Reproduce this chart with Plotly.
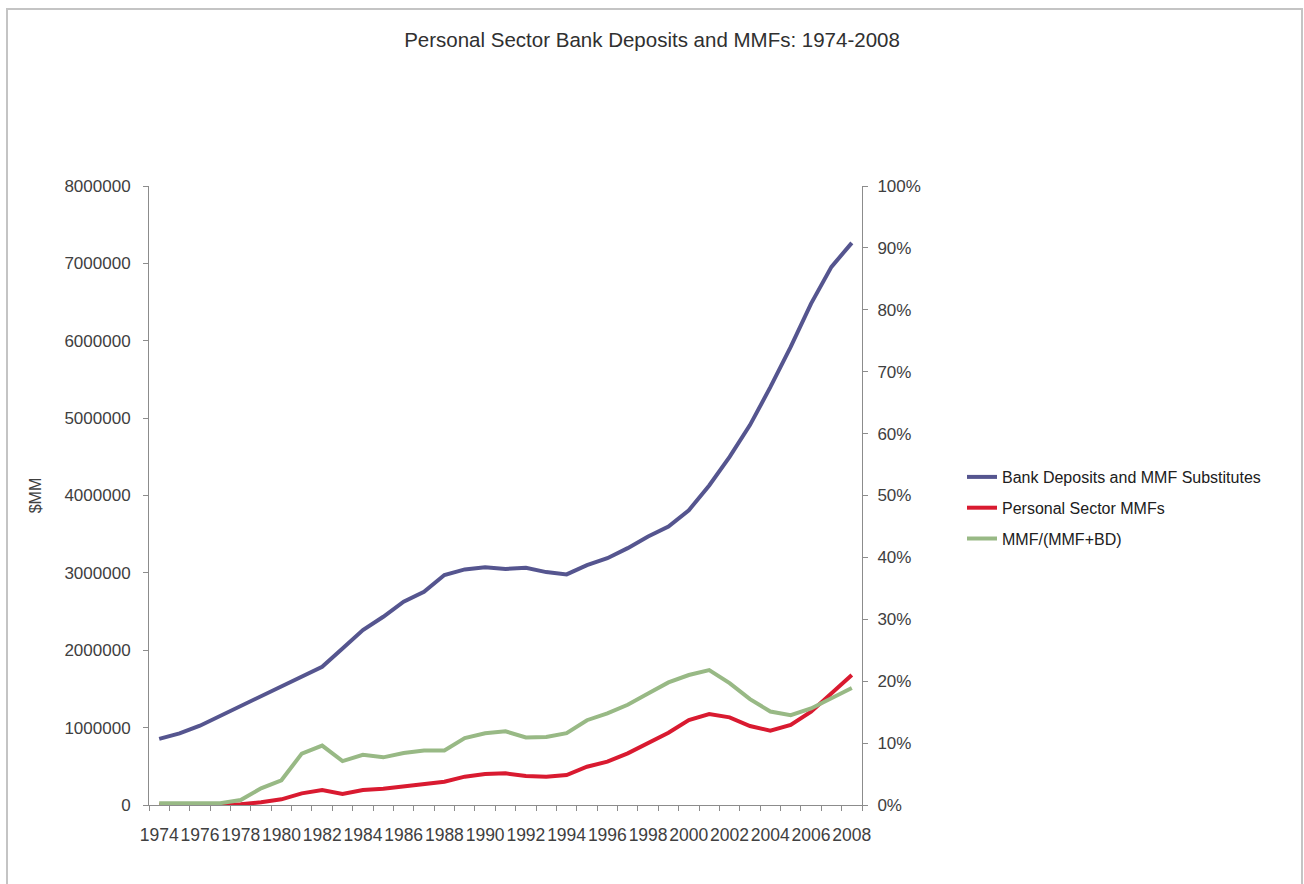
import plotly.graph_objects as go

years = list(range(1974, 2009))

bank_deposits = [855000, 926000, 1025000, 1154000, 1283000, 1412000, 1537000, 1658000,
                 1787000, 2024000, 2261000, 2433000, 2627000, 2756000, 2972000, 3045000,
                 3071000, 3050000, 3065000, 3010000, 2980000, 3100000, 3190000, 3320000,
                 3470000, 3600000, 3810000, 4130000, 4500000, 4910000, 5400000, 5920000,
                 6480000, 6955000, 7265000]

personal_mmfs = [2000, 4000, 5000, 5000, 10000, 35000, 73000, 150000, 194000, 142000,
                 194000, 211000, 245000, 267000, 301000, 366000, 400000, 409000, 375000,
                 366000, 388000, 495000, 560000, 668000, 797000, 934000, 1098000, 1176000,
                 1133000, 1021000, 960000, 1034000, 1206000, 1443000, 1680000]

mmf_share = [0.003, 0.003, 0.003, 0.003, 0.008, 0.027, 0.040, 0.083, 0.096, 0.071, 0.081,
             0.077, 0.084, 0.088, 0.088, 0.108, 0.116, 0.119, 0.109, 0.110, 0.116, 0.137,
             0.148, 0.162, 0.180, 0.198, 0.210, 0.218, 0.197, 0.171, 0.151, 0.145, 0.156,
             0.172, 0.189]

x_ticks = list(range(1974, 2009, 2))
x_labels = [str(y) for y in x_ticks]

FONT = "Liberation Sans"
TXT = "#404040"
AX = "#8c8c8c"

fig = go.Figure()
fig.add_trace(go.Scatter(x=years, y=bank_deposits, mode="lines",
                         name="Bank Deposits and MMF Substitutes", legendgroup="a",
                         line=dict(color="#55558f", width=4)))
fig.add_trace(go.Scatter(x=years, y=personal_mmfs, mode="lines",
                         name="Personal Sector MMFs", legendgroup="b",
                         line=dict(color="#d91a30", width=4)))
fig.add_trace(go.Scatter(x=years, y=mmf_share, mode="lines",
                         name="MMF/(MMF+BD)", yaxis="y2", legendgroup="c",
                         line=dict(color="#98b985", width=4)))

fig.update_layout(
    width=1304, height=884,
    margin=dict(l=149, r=442, t=186, b=79),
    paper_bgcolor="white", plot_bgcolor="white",
    font=dict(family=FONT, color=TXT, size=16),
    title=dict(text="Personal Sector Bank Deposits and MMFs: 1974-2008",
               x=0.5, xref="container", xanchor="center",
               y=1 - 40 / 884, yref="container", yanchor="middle",
               font=dict(family=FONT, size=20.5, color="#303030")),
    xaxis=dict(range=[1973.5, 2008.5], tickvals=x_ticks, ticktext=x_labels,
               ticks="", showgrid=False, zeroline=False, tickangle=0,
               showline=True, linecolor=AX, linewidth=1,
               ticklabelstandoff=14,
               tickfont=dict(size=17.5, color=TXT),
               minor=dict(tick0=1973.5, dtick=1, ticks="outside", ticklen=5,
                          tickcolor=AX, showgrid=False)),
    yaxis=dict(range=[0, 8000000], dtick=1000000, tickformat="d",
               showgrid=False, zeroline=False, showline=True, linecolor=AX,
               linewidth=1, ticks="outside", ticklen=5, tickcolor=AX,
               ticklabelstandoff=9,
               tickfont=dict(size=17, color=TXT),
               title=dict(text="$MM", font=dict(size=16, color=TXT), standoff=18)),
    yaxis2=dict(range=[0, 1], dtick=0.1, tickformat=".0%", overlaying="y",
                side="right", showgrid=False, zeroline=False, showline=True,
                linecolor=AX, linewidth=1, ticks="outside", ticklen=5,
                ticklabelstandoff=6,
                tickcolor=AX, tickfont=dict(size=17, color=TXT)),
    legend=dict(x=(962 - 149) / 713, y=(805 - 460) / 619, xanchor="left",
                yanchor="top", bgcolor="rgba(0,0,0,0)",
                font=dict(size=16, color="#202020"), tracegroupgap=7,
                traceorder="grouped", itemwidth=30),
    showlegend=True,
)

fig.add_shape(type="rect", xref="paper", yref="paper",
              x0=(7 - 149) / 713, x1=(1302 - 149) / 713,
              y0=(805 - 900) / 619, y1=(805 - 9) / 619,
              line=dict(color="#c4c4c4", width=2), fillcolor="rgba(0,0,0,0)",
              layer="below")

fig.write_html("out.html")
